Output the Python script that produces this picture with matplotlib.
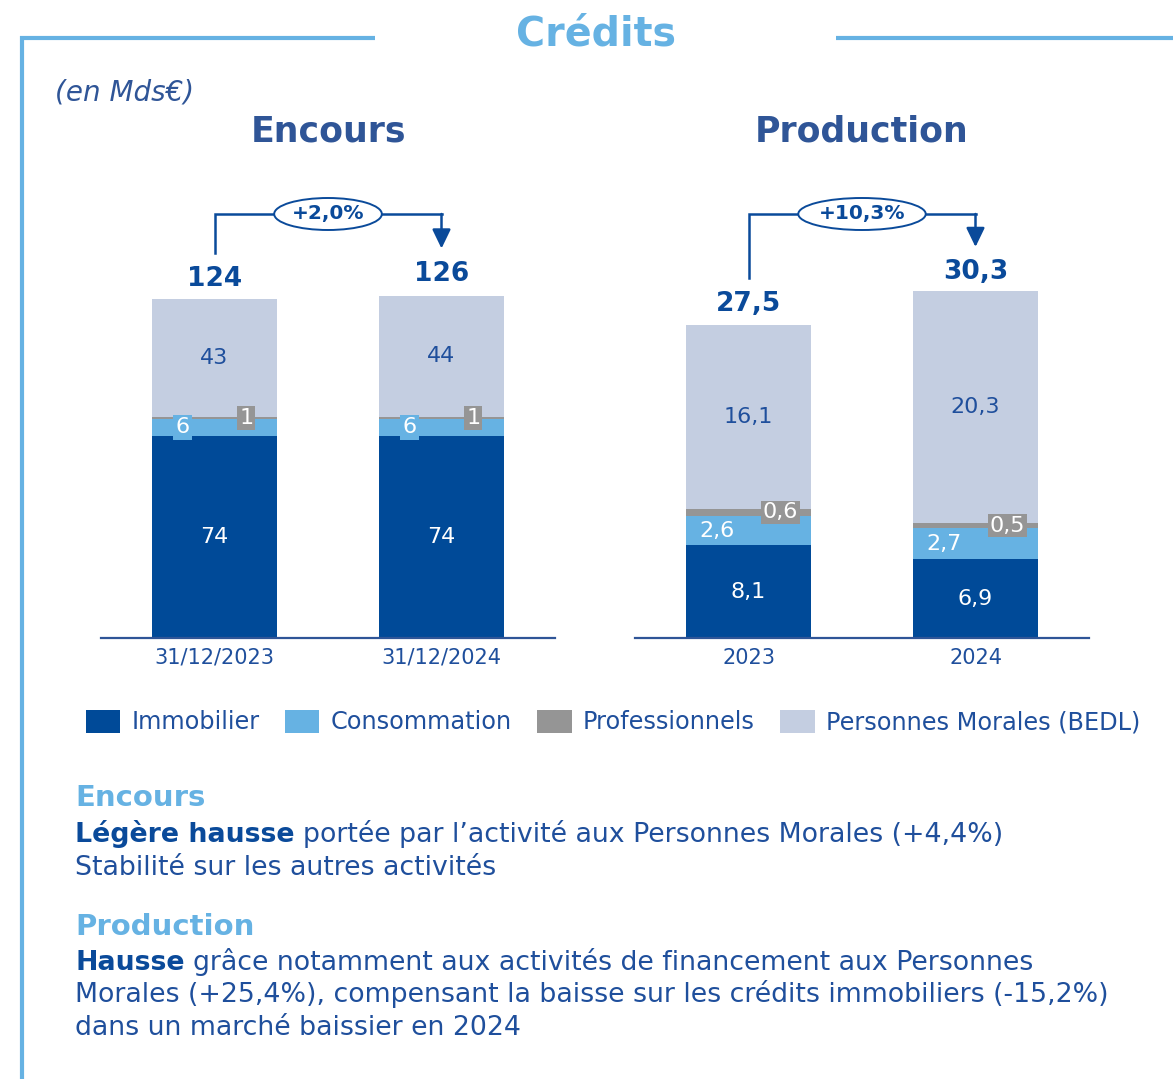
import matplotlib
matplotlib.use('Agg')
import matplotlib.pyplot as plt
from matplotlib.lines import Line2D
from matplotlib.patches import Patch
import numpy as np

# ---------------- data ----------------
series_names = ['Immobilier', 'Consommation', 'Professionnels', 'Personnes Morales (BEDL)']

encours_categories = ['31/12/2023', '31/12/2024']
encours_immobilier = [74, 74]
encours_consommation = [6, 6]
encours_professionnels = [1, 1]
encours_pm = [43, 44]
encours_totals = [124, 126]
encours_growth = '+2,0%'

production_categories = ['2023', '2024']
production_immobilier = [8.1, 6.9]
production_consommation = [2.6, 2.7]
production_professionnels = [0.6, 0.5]
production_pm = [16.1, 20.3]
production_totals = [27.5, 30.3]
production_growth = '+10,3%'

# ---------------- style ----------------
W, H = 1173, 1079
C_IMMO = '#004a98'
C_CONS = '#66b2e3'
C_PRO = '#959595'
C_PM = '#c4cee1'
LIGHT = '#66b2e3'
NAVY = '#0a4a9a'
TEXT = '#1f4f9c'
TITLE = '#2f5597'
colors = [C_IMMO, C_CONS, C_PRO, C_PM]

plt.rcParams['font.family'] = ['DejaVu Sans']

fig = plt.figure(figsize=(W / 100, H / 100), dpi=100)
fig.patch.set_facecolor('white')


def fx(px):
    return px / W


def fy(py):
    return 1 - py / H


def fmt(v):
    return f"{v}".replace('.', ',')


AX_TOP, AX_BOT = 180, 638
AX_H = AX_BOT - AX_TOP


def draw_chart(left, width, cats, series, totals, growth, ymax):
    ax = fig.add_axes([fx(left), fy(AX_BOT), width / W, AX_H / H])
    ppu = AX_H / ymax
    x = np.arange(len(cats))
    bw = 0.555
    bottom = np.zeros(len(cats))
    for i, (vals, col) in enumerate(zip(series, colors)):
        vals = np.array(vals, dtype=float)
        ax.bar(x, vals, bw, bottom=bottom, color=col, linewidth=0, zorder=2)
        for xi, b, v, raw in zip(x, bottom, vals, series[i]):
            yc = b + v / 2
            if i == 0:
                ax.text(xi, yc, fmt(raw), ha='center', va='center', color='white', fontsize=16, zorder=4)
            elif i == 1:
                ax.text(xi - 0.14, yc, fmt(raw), ha='center', va='center', color='white', fontsize=16, zorder=4,
                        bbox=dict(boxstyle='square,pad=0.1', fc=C_CONS, ec='none'))
            elif i == 2:
                ax.text(xi + 0.14, yc, fmt(raw), ha='center', va='center', color='white', fontsize=16, zorder=4,
                        bbox=dict(boxstyle='square,pad=0.08', fc=C_PRO, ec='none'))
            else:
                ax.text(xi, yc, fmt(raw), ha='center', va='center', color=TEXT, fontsize=16, zorder=4)
        bottom = bottom + vals

    for xi, t in zip(x, totals):
        ax.annotate(fmt(t), xy=(xi, t), xytext=(0, 13 * 0.72), textcoords='offset points',
                    ha='center', va='baseline', fontsize=19, fontweight='bold', color=NAVY)

    # growth bracket
    yb = (AX_BOT - 214) / ppu
    y_leg = totals[0] + 46 / ppu
    y_tip = totals[1] + 45 / ppu
    ax.plot([x[0], x[0], x[1]], [y_leg, yb, yb], color=NAVY, lw=1.8, clip_on=False,
            solid_joinstyle='miter', zorder=3)
    ax.annotate('', xy=(x[1], y_tip), xytext=(x[1], yb),
                arrowprops=dict(arrowstyle='-|>,head_length=0.58,head_width=0.28', mutation_scale=20,
                                color=NAVY, lw=1.8, shrinkA=0, shrinkB=0), annotation_clip=False)
    ax.text((x[0] + x[1]) / 2, yb, growth, ha='center', va='center', fontsize=14.5, fontweight='bold',
            color=NAVY, zorder=5,
            bbox=dict(boxstyle='ellipse,pad=0.09', fc='white', ec=NAVY, lw=1.4))

    ax.set_xlim(-0.5, 1.5)
    ax.set_ylim(0, ymax)
    for s in ['top', 'left', 'right']:
        ax.spines[s].set_visible(False)
    ax.spines['bottom'].set_color(TITLE)
    ax.spines['bottom'].set_linewidth(1.6)
    ax.spines['bottom'].set_zorder(5)
    ax.set_yticks([])
    ax.set_xticks(x)
    ax.set_xticklabels(cats, fontsize=15, color=TEXT)
    ax.tick_params(axis='x', length=0, pad=7)
    ax.patch.set_alpha(0)
    return ax


ax1 = draw_chart(101, 454, encours_categories,
                 [encours_immobilier, encours_consommation, encours_professionnels, encours_pm],
                 encours_totals, encours_growth, 458 / 2.734)
ax2 = draw_chart(635, 454, production_categories,
                 [production_immobilier, production_consommation, production_professionnels, production_pm],
                 production_totals, production_growth, 458 / 11.42)

# ---------------- frame and titles ----------------
fig.add_artist(Line2D([fx(22), fx(22)], [fy(36), fy(1079)], color=LIGHT, lw=3, transform=fig.transFigure,
                      solid_capstyle='butt'))
fig.add_artist(Line2D([fx(20), fx(375)], [fy(38), fy(38)], color=LIGHT, lw=3, transform=fig.transFigure,
                      solid_capstyle='butt'))
fig.add_artist(Line2D([fx(836), fx(1173)], [fy(38), fy(38)], color=LIGHT, lw=3, transform=fig.transFigure,
                      solid_capstyle='butt'))

fig.text(fx(596), fy(46), 'Crédits', ha='center', va='baseline', fontsize=28.5, fontweight='bold', color=LIGHT)
fig.text(fx(55), fy(100), '(en Mds€)', ha='left', va='baseline', fontsize=20, style='italic', color=TITLE)
fig.text(fx(328), fy(142), 'Encours', ha='center', va='baseline', fontsize=25, fontweight='bold', color=TITLE)
fig.text(fx(862), fy(142), 'Production', ha='center', va='baseline', fontsize=25, fontweight='bold', color=TITLE)

# ---------------- legend ----------------
handles = [Patch(facecolor=c, edgecolor='none') for c in colors]
fig.legend(handles, series_names, loc='center', bbox_to_anchor=(fx(613), fy(722)), ncol=4, frameon=False,
           fontsize=17.3, labelcolor=TEXT, handlelength=1.44, handleheight=1.1, handletextpad=0.47,
           columnspacing=1.05, borderaxespad=0, borderpad=0)

# ---------------- commentary ----------------
renderer = fig.canvas.get_renderer()


def rich_line(x, y, parts, fs):
    for txt, weight, color in parts:
        t = fig.text(fx(x), fy(y), txt, ha='left', va='baseline', fontsize=fs, fontweight=weight, color=color)
        bb = t.get_window_extent(renderer)
        x += bb.width + 0.318 * fs * 100 / 72


BODY = 19.3
fig.text(fx(75), fy(806), 'Encours', ha='left', va='baseline', fontsize=21, fontweight='bold', color=LIGHT)
rich_line(75, 842, [('Légère hausse', 'bold', NAVY),
                    ('portée par l’activité aux Personnes Morales (+4,4%)', 'normal', TEXT)], BODY)
rich_line(75, 875, [('Stabilité sur les autres activités', 'normal', TEXT)], BODY)

fig.text(fx(75), fy(935), 'Production', ha='left', va='baseline', fontsize=21, fontweight='bold', color=LIGHT)
rich_line(75, 970, [('Hausse', 'bold', NAVY),
                    ('grâce notamment aux activités de financement aux Personnes', 'normal', TEXT)], BODY)
rich_line(75, 1002, [('Morales (+25,4%), compensant la baisse sur les crédits immobiliers (-15,2%)', 'normal', TEXT)],
          BODY)
rich_line(75, 1035, [('dans un marché baissier en 2024', 'normal', TEXT)], BODY)

fig.savefig('out.png', dpi=100, facecolor='white')
